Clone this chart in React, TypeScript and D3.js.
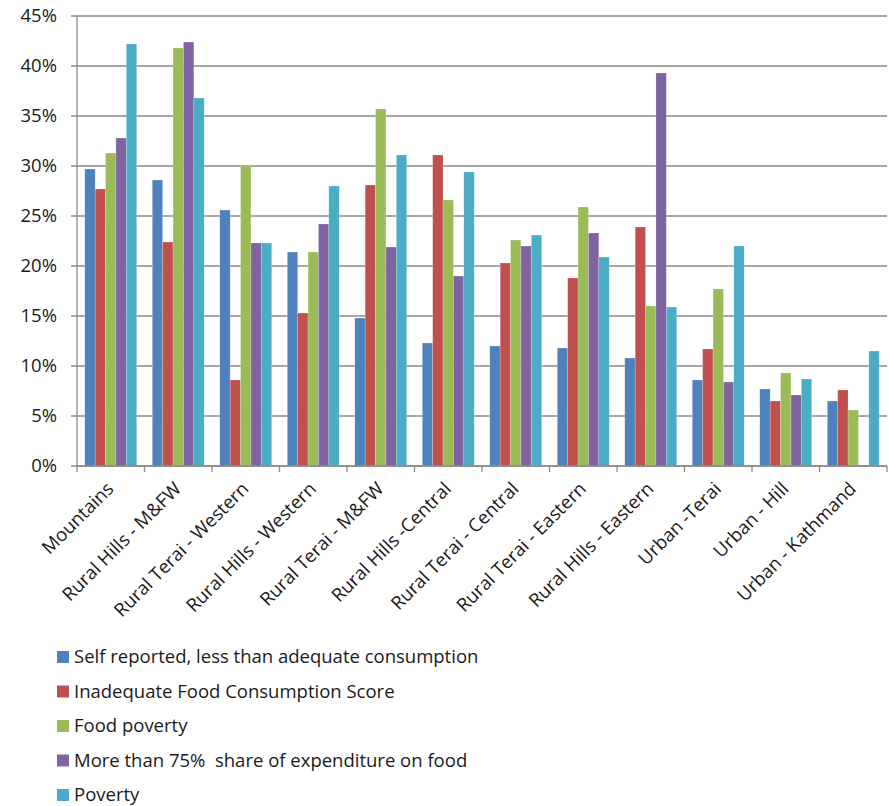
import React from "react";
import * as d3 from "d3";

const categories = [
  "Mountains",
  "Rural Hills - M&FW",
  "Rural Terai - Western",
  "Rural Hills - Western",
  "Rural Terai - M&FW",
  "Rural Hills -Central",
  "Rural Terai - Central",
  "Rural Terai - Eastern",
  "Rural Hills - Eastern",
  "Urban -Terai",
  "Urban - Hill",
  "Urban - Kathmand",
];

const seriesNames = [
  "Self reported, less than adequate consumption",
  "Inadequate Food Consumption Score",
  "Food poverty",
  "More than 75%  share of expenditure on food",
  "Poverty",
];

const selfReported = [29.7, 28.6, 25.6, 21.4, 14.8, 12.3, 12.0, 11.8, 10.8, 8.6, 7.7, 6.5];
const inadequateFCS = [27.7, 22.4, 8.6, 15.3, 28.1, 31.1, 20.3, 18.8, 23.9, 11.7, 6.5, 7.6];
const foodPoverty = [31.3, 41.8, 30.1, 21.4, 35.7, 26.6, 22.6, 25.9, 16.0, 17.7, 9.3, 5.6];
const foodShare75 = [32.8, 42.4, 22.3, 24.2, 21.9, 19.0, 22.0, 23.3, 39.3, 8.4, 7.1, 0.1];
const poverty = [42.2, 36.8, 22.3, 28.0, 31.1, 29.4, 23.1, 20.9, 15.9, 22.0, 8.7, 11.5];

const seriesValues = [selfReported, inadequateFCS, foodPoverty, foodShare75, poverty];
const colors = ["#4F81BD", "#C0504D", "#9BBB59", "#8064A2", "#4BACC6"];
const yTicks = [0, 5, 10, 15, 20, 25, 30, 35, 40, 45];

const W = 890;
const H = 806;
const left = 77;
const right = 887;
const top = 16;
const bottom = 466;
const font = "'Open Sans', 'Noto Sans', sans-serif";
const fs = 18.5;

export default function App() {
  const x0 = d3.scaleBand<string>().domain(categories).range([left, right]).paddingInner(0).paddingOuter(0);
  const x1 = d3
    .scaleBand<string>()
    .domain(seriesNames)
    .range([0, x0.bandwidth()])
    .paddingInner(0)
    .paddingOuter(0.75);
  const y = d3.scaleLinear().domain([0, 45]).range([bottom, top]);
  const gridColor = "#8a8a8a";

  const boundaries = categories.map((c) => x0(c) as number).concat([right]);

  return (
    <svg
      width={W}
      height={H}
      style={{ position: "absolute", left: 0, top: 0, background: "#fff" }}
      fontFamily={font}
    >
      {yTicks.map((t) => (
        <g key={t}>
          <line x1={left - 6} x2={right} y1={y(t)} y2={y(t)} stroke={gridColor} strokeWidth={1.3} />
          <text x={57} y={y(t)} dy="0.35em" textAnchor="end" fontSize={fs} fill="#1a1a1a">
            {t}%
          </text>
        </g>
      ))}
      <line x1={left} x2={left} y1={top} y2={bottom} stroke={gridColor} strokeWidth={1.3} />
      {categories.map((c, ci) => (
        <g key={c} transform={`translate(${x0(c)},0)`}>
          {seriesNames.map((s, si) => {
            const v = seriesValues[si][ci];
            return (
              <rect
                key={s}
                x={x1(s)}
                y={y(v)}
                width={x1.bandwidth()}
                height={bottom - y(v)}
                fill={colors[si]}
                stroke="#ffffff"
                strokeOpacity={0.35}
                strokeWidth={0.6}
              />
            );
          })}
        </g>
      ))}
      <line x1={left} x2={right} y1={bottom} y2={bottom} stroke={gridColor} strokeWidth={1.3} />
      {boundaries.map((bx, i) => (
        <line key={i} x1={bx} x2={bx} y1={bottom} y2={bottom + 6} stroke={gridColor} strokeWidth={1.3} />
      ))}
      {categories.map((c) => {
        const cx = (x0(c) as number) + x0.bandwidth() / 2 + 4;
        const cy = 490;
        return (
          <text
            key={c}
            x={cx}
            y={cy}
            textAnchor="end"
            fontSize={fs}
            fill="#1a1a1a"
            transform={`rotate(-45, ${cx}, ${cy})`}
          >
            {c}
          </text>
        );
      })}
      {seriesNames.map((s, i) => {
        const ly = 657 + i * 34.5;
        return (
          <g key={s}>
            <rect x={57} y={ly - 6} width={12} height={12} fill={colors[i]} />
            <text x={74} y={ly} dy="0.35em" fontSize={fs} fill="#1a1a1a" style={{ whiteSpace: "pre" }}>
              {s}
            </text>
          </g>
        );
      })}
    </svg>
  );
}
